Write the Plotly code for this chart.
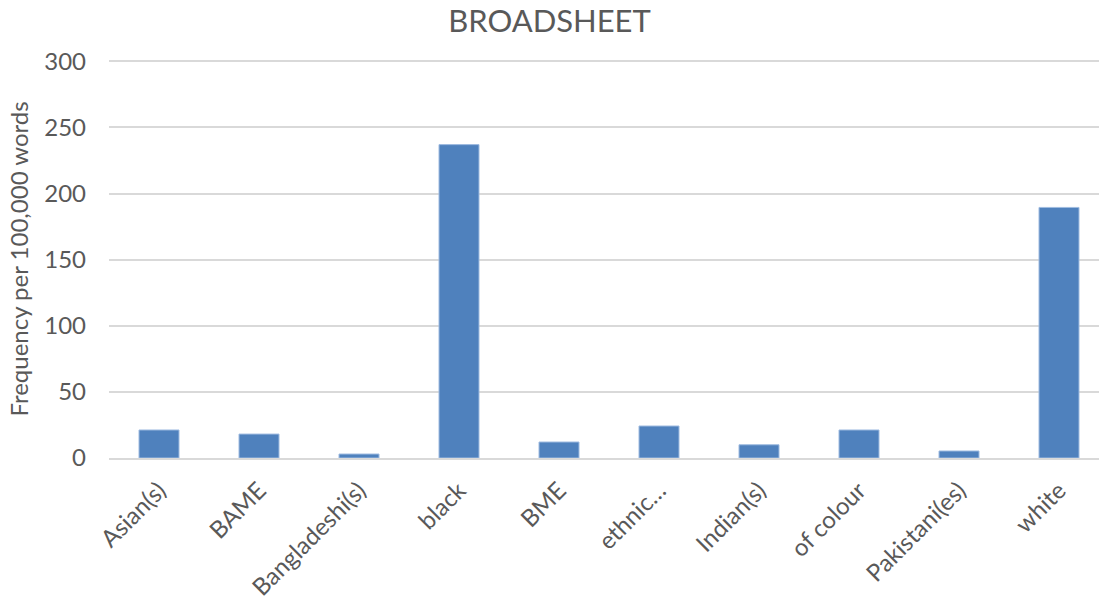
import plotly.graph_objects as go

categories = ["Asian(s)", "BAME", "Bangladeshi(s)", "black", "BME", "ethnic…",
              "Indian(s)", "of colour", "Pakistani(es)", "white"]
frequency = [21.2, 18.1, 3.0, 237.0, 12.1, 24.2, 10.0, 21.2, 5.3, 189.5]
y_ticks = [0, 50, 100, 150, 200, 250, 300]

text_color = "#595959"
grid_color = "#d9d9d9"
font_family = "Lato, 'Open Sans', sans-serif"

fig = go.Figure(
    go.Bar(
        x=list(range(len(categories))),
        y=frequency,
        marker=dict(color="#4f81bd", line=dict(color="#9fbbe0", width=1)),
        width=0.4,
        hoverinfo="x+y",
    )
)

fig.update_layout(
    width=1099,
    height=605,
    margin=dict(l=109, r=0, t=60, b=147),
    paper_bgcolor="white",
    plot_bgcolor="white",
    showlegend=False,
    font=dict(family=font_family, color=text_color, size=24),
    title=dict(
        text="BROADSHEET",
        x=0.5,
        xanchor="center",
        y=0.965,
        yanchor="middle",
        font=dict(size=31, color=text_color, family=font_family),
    ),
)

fig.update_xaxes(
    tickmode="array",
    tickvals=list(range(len(categories))),
    ticktext=categories,
    tickangle=-45,
    range=[-0.5, 9.4],
    showgrid=False,
    showline=True,
    linecolor=grid_color,
    linewidth=2,
    ticks="",
    automargin=False,
    ticklabelstandoff=7,
    tickfont=dict(size=24, color=text_color),
    zeroline=False,
)

fig.update_yaxes(
    range=[0, 301],
    tickvals=y_ticks,
    showgrid=True,
    gridcolor=grid_color,
    gridwidth=1.5,
    zeroline=False,
    showline=False,
    ticks="",
    automargin=False,
    ticklabelstandoff=22,
    tickfont=dict(size=24, color=text_color),
    title=dict(text="Frequency per 100,000 words", font=dict(size=24, color=text_color), standoff=8),
)

fig.write_html("out.html")
